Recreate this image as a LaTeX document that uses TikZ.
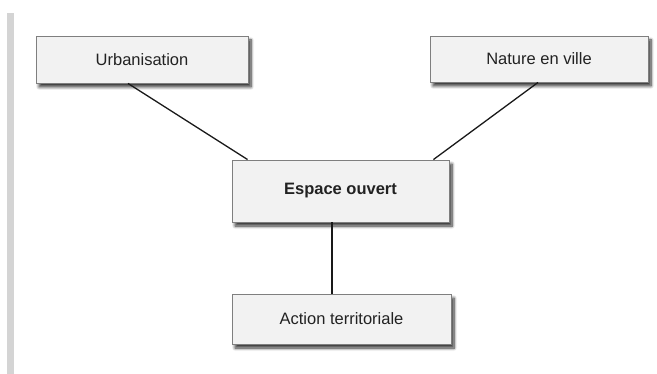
\documentclass[tikz,border=0pt]{standalone}
\usepackage{fontspec}
\setmainfont{Liberation Sans}
\usepackage{tikz}
\usetikzlibrary{shadows.blur}

\definecolor{boxfill}{HTML}{F2F2F2}
\definecolor{boxline}{HTML}{7F7F7F}
\definecolor{barcol}{HTML}{D4D4D4}
\definecolor{txtcol}{HTML}{222222}

\tikzset{
	conceptbox/.style={draw=boxline, line width=0.9pt, fill=boxfill, inner sep=0pt,
		text=txtcol, font=\fontsize{16.5}{19}\selectfont,
		blur shadow={shadow xshift=3pt, shadow yshift=-4pt, shadow blur steps=8,
			shadow blur radius=3pt, shadow opacity=80}},
	link/.style={line width=1.3pt, draw=black!90}
}

\begin{document}
\begin{tikzpicture}[x=1pt,y=-1pt]
	\useasboundingbox (0,0) rectangle (657,374);
	
	% barre grise a gauche
	\fill[barcol] (7,13) rectangle (14,374);
	
	\node[conceptbox, minimum width=212pt, minimum height=47pt] (urb) at (142,59.5) {Urbanisation};
	\node[conceptbox, minimum width=218pt, minimum height=46pt] (nat) at (539,59) {Nature en ville};
	\node[conceptbox, minimum width=217pt, minimum height=62pt, font=\fontsize{16.5}{19}\selectfont\bfseries] (esp) at (340.5,191) {Espace ouvert};
	\node[conceptbox, minimum width=219pt, minimum height=50pt] (act) at (341.5,319) {Action territoriale};
	
	\draw[link] ([xshift=-14pt]urb.south) -- ([xshift=16pt]esp.north west);
	\draw[link] ([xshift=-1pt]nat.south) -- ([xshift=-16pt]esp.north east);
	\draw[link] ([xshift=-8.5pt]esp.south) -- ([xshift=-9.5pt]act.north);
	
\end{tikzpicture}
\end{document}
